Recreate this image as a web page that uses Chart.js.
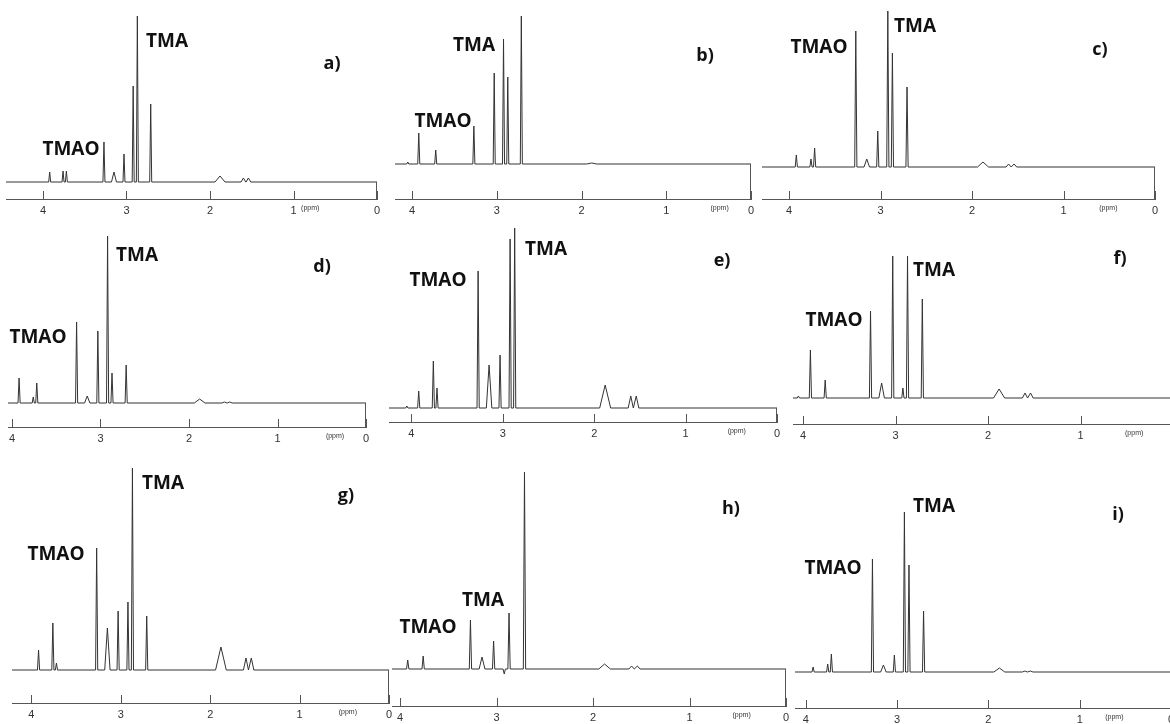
<!DOCTYPE html>
<html>
<head>
<meta charset="utf-8">
<script src="https://cdn.jsdelivr.net/npm/chart.js@4.4.1/dist/chart.umd.min.js"></script>
<style>
  html, body { margin: 0; padding: 0; background: #fff; }
  body { width: 1170px; height: 724px; position: relative; overflow: hidden; }
  canvas { position: absolute; }
  .lbl {
    position: absolute;
    transform: translate(-50%, -50%);
    font-family: "Open Sans", sans-serif;
    font-weight: 700;
    font-size: 19px;
    line-height: 1;
    color: #111;
    white-space: nowrap;
  }
</style>
</head>
<body>
<script>
// peak positions (ppm) shared by all spectra, and half width of each peak at its base
const peakPpm   = [4.05, 3.92, 3.76, 3.72, 3.27, 3.15, 3.03, 2.92, 2.87, 2.71, 1.88, 1.60, 1.54];
const peakWidth = [0.012, 0.012, 0.012, 0.012, 0.012, 0.03, 0.012, 0.012, 0.012, 0.012, 0.06, 0.028, 0.028];

// peak heights (same order as peakPpm)
const heightsA = [0, 10, 11, 11, 40, 10, 28, 96, 166, 78, 6, 4, 4];
const heightsB = [2, 31, 0, 14, 38, 0, 91, 125, 87, 148, 1, 0, 0];
const heightsC = [0, 12, 8, 19, 136, 8, 36, 156, 114, 80, 5, 3, 3];
const heightsD = [0, 25, 6, 20, 81, 7, 72, 167, 30, 38, 4, 1, 1];
const heightsE = [2, 17, 47, 20, 137, 43, 53, 169, 180, 0, 23, 12, 12];
const heightsF = [2, 48, 18, 0, 87, 15, 142, 10, 142, 99, 9, 5, 5];
const heightsG = [0, 20, 47, 7, 122, 42, 59, 68, 202, 54, 23, 12, 12];
const heightsH = [0, 9, 13, 0, 49, 12, 28, -5, 56, 197, 5, 3, 3];
const heightsI = [0, 5, 8, 18, 113, 7, 17, 160, 107, 61, 4, 1, 1];

const tickPpm = [4, 3, 2, 1, 0];
const compounds = ["TMA", "TMAO"];

// layout of each panel on the page
const panels = [
    { tag: "a)", h: heightsA, left: 6,   zero: 377,  ppp: 83.5,  base: 182, axis: 199, top: 0,   ppmAt: 0.8,  tma: [167, 40],  tmao: [71, 148],  tagAt: [332, 62] },
    { tag: "b)", h: heightsB, left: 395, zero: 751,  ppp: 84.75, base: 164, axis: 199, top: 0,   ppmAt: 0.37, tma: [474, 44],  tmao: [443, 120], tagAt: [705, 54] },
    { tag: "c)", h: heightsC, left: 762, zero: 1155, ppp: 91.5,  base: 167, axis: 199, top: 0,   ppmAt: 0.51, tma: [915, 25],  tmao: [819, 46],  tagAt: [1100, 48] },
    { tag: "d)", h: heightsD, left: 8,   zero: 366,  ppp: 88.5,  base: 403, axis: 427, top: 220, ppmAt: 0.35, tma: [137, 254], tmao: [38, 336],  tagAt: [322, 265] },
    { tag: "e)", h: heightsE, left: 389, zero: 777,  ppp: 91.4,  base: 408, axis: 422, top: 220, ppmAt: 0.44, tma: [546, 248], tmao: [438, 279], tagAt: [722, 259] },
    { tag: "f)", h: heightsF, left: 793, zero: 1173, ppp: 92.5,  base: 398, axis: 424, top: 220, ppmAt: 0.42, tma: [934, 269], tmao: [834, 319], tagAt: [1120, 257] },
    { tag: "g)", h: heightsG, left: 12,  zero: 389,  ppp: 89.4,  base: 670, axis: 703, top: 450, ppmAt: 0.46, tma: [163, 482], tmao: [56, 553],  tagAt: [346, 494] },
    { tag: "h)", h: heightsH, left: 392, zero: 786,  ppp: 96.5,  base: 669, axis: 706, top: 450, ppmAt: 0.46, tma: [483, 599], tmao: [428, 626], tagAt: [731, 507] },
    { tag: "i)", h: heightsI, left: 795, zero: 1171, ppp: 91.3,  base: 672, axis: 708, top: 450, ppmAt: 0.62, tma: [934, 505], tmao: [833, 567], tagAt: [1118, 513] }
];

const AXIS_H = 20;
const PAD_R = 12;

function spectrum(heights, xMax) {
    const pts = [{ x: xMax, y: 0 }];
    peakPpm.forEach((p, i) => {
        if (!heights[i]) return;
        pts.push({ x: p + peakWidth[i], y: 0 });
        pts.push({ x: p, y: heights[i] });
        pts.push({ x: p - peakWidth[i], y: 0 });
    });
    pts.push({ x: 0, y: 0 });
    return pts;
}

// right frame edge and upward tick marks
const frame = {
    id: "frame",
    afterDraw(chart) {
        const { ctx, chartArea, scales } = chart;
        const y0 = Math.round(scales.y.getPixelForValue(0));
        ctx.save();
        ctx.strokeStyle = "#555";
        ctx.lineWidth = 1;
        ctx.beginPath();
        const xr = Math.round(chartArea.right) - 0.5;
        ctx.moveTo(xr, y0);
        ctx.lineTo(xr, chartArea.bottom);
        tickPpm.forEach(v => {
            const px = Math.round(scales.x.getPixelForValue(v)) + 0.5;
            ctx.moveTo(px, chartArea.bottom);
            ctx.lineTo(px, chartArea.bottom - 8);
        });
        ctx.stroke();
        ctx.restore();
    }
};

function addLabel(text, pos, size) {
    const d = document.createElement("div");
    d.className = "lbl";
    d.textContent = text;
    d.style.left = pos[0] + "px";
    d.style.top = pos[1] + "px";
    if (size) d.style.fontSize = size + "px";
    document.body.appendChild(d);
}

panels.forEach(p => {
    const xMax = (p.zero - p.left) / p.ppp;
    const canvas = document.createElement("canvas");
    canvas.width = p.zero - p.left + PAD_R;
    canvas.height = p.axis - p.top + AXIS_H;
    canvas.style.left = p.left + "px";
    canvas.style.top = p.top + "px";
    document.body.appendChild(canvas);

    new Chart(canvas, {
        type: "line",
        data: {
            datasets: [{
                data: spectrum(p.h, xMax),
                borderColor: "#333",
                borderWidth: 1,
                pointRadius: 0,
                tension: 0
            }]
        },
        options: {
            responsive: false,
            devicePixelRatio: 1,
            animation: false,
            layout: { padding: { left: 0, right: PAD_R, top: 0, bottom: 0 } },
            plugins: { legend: { display: false }, tooltip: { enabled: false } },
            scales: {
                x: {
                    type: "linear",
                    reverse: true,
                    min: 0,
                    max: xMax,
                    grid: { display: false, drawTicks: false },
                    border: { display: true, color: "#555", width: 1 },
                    afterBuildTicks: scale => {
                        scale.ticks = tickPpm.concat([p.ppmAt]).map(v => ({ value: v }));
                    },
                    afterFit: scale => {
                        scale.height = AXIS_H;
                        scale.paddingLeft = 0;
                        scale.paddingRight = 0;
                    },
                    ticks: {
                        autoSkip: false,
                        maxRotation: 0,
                        padding: 5,
                        color: "#333",
                        font: ctx => (ctx.tick && ctx.tick.value === p.ppmAt)
                            ? { family: "Liberation Sans", size: 7 }
                            : { family: "Liberation Sans", size: 11 },
                        callback: v => (v === p.ppmAt ? "(ppm)" : String(v))
                    }
                },
                y: {
                    display: false,
                    min: -(p.axis - p.base),
                    max: p.base - p.top
                }
            }
        },
        plugins: [frame]
    });

    addLabel(compounds[0], p.tma);
    addLabel(compounds[1], p.tmao);
    addLabel(p.tag, p.tagAt, 18);
});
</script>
</body>
</html>
